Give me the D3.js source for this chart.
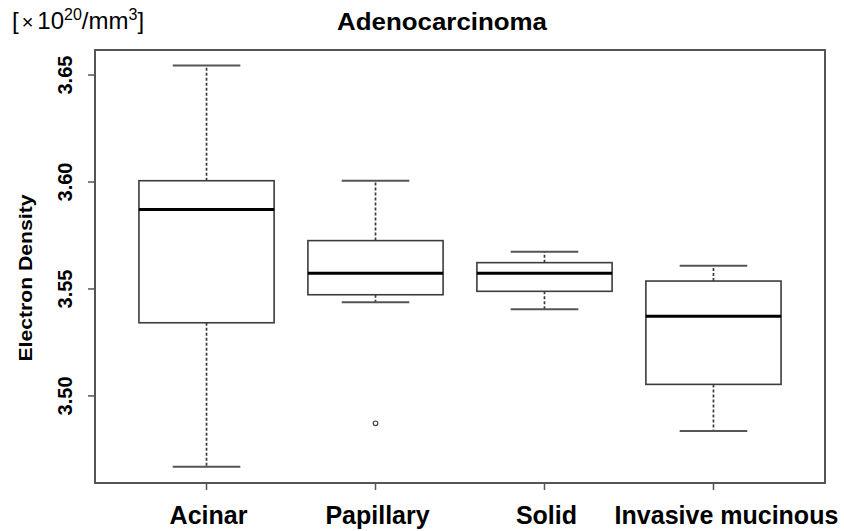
<!DOCTYPE html>
<html>
<head>
<meta charset="utf-8">
<script src="https://cdn.jsdelivr.net/npm/d3@7"></script>
<style>
  body { margin: 0; background: #fff; }
  text { font-family: "Liberation Sans", Arial, sans-serif; fill: #000; }
</style>
</head>
<body>
<svg id="chart"></svg>
<script>
// box plot values (electron density, x10^20/mm^3)
const categories = ["Acinar", "Papillary", "Solid", "Invasive mucinous"];
const whiskerLow = [3.4669, 3.5438, 3.5405, 3.4836];
const q1 = [3.5342, 3.5473, 3.5489, 3.5054];
const medians = [3.5872, 3.5573, 3.5573, 3.5372];
const q3 = [3.6006, 3.5726, 3.5623, 3.5537];
const whiskerHigh = [3.6544, 3.6006, 3.5674, 3.5609];
const outliers = [[], [3.4872], [], []];
const yTicks = [3.50, 3.55, 3.60, 3.65];

const width = 844, height = 531;
const plotLeft = 95, plotRight = 825, plotTop = 50, plotBottom = 483;

const svg = d3.select("#chart")
  .attr("width", width)
  .attr("height", height);

// R style limits: 0.5..n+0.5 padded by 4%
const x = d3.scaleLinear().domain([0.34, 4.66]).range([plotLeft, plotRight]);
const y = d3.scaleLinear().domain([3.4593, 3.6617]).range([plotBottom, plotTop]);

const lineCol = "#3c3c3c";
const boxW = 0.4;   // half width in x units
const capW = 0.2;

const rows = categories.map((c, i) => ({
  name: c, pos: i + 1,
  lo: whiskerLow[i], q1: q1[i], med: medians[i], q3: q3[i], hi: whiskerHigh[i],
  out: outliers[i]
}));

const g = svg.append("g");

// whiskers (dashed)
g.selectAll(".whisk-hi").data(rows).enter().append("line")
  .attr("x1", d => x(d.pos)).attr("x2", d => x(d.pos))
  .attr("y1", d => y(d.q3)).attr("y2", d => y(d.hi))
  .attr("stroke", lineCol).attr("stroke-width", 1.7)
  .attr("stroke-dasharray", "3,2");
g.selectAll(".whisk-lo").data(rows).enter().append("line")
  .attr("x1", d => x(d.pos)).attr("x2", d => x(d.pos))
  .attr("y1", d => y(d.q1)).attr("y2", d => y(d.lo))
  .attr("stroke", lineCol).attr("stroke-width", 1.7)
  .attr("stroke-dasharray", "3,2");

// caps
["hi", "lo"].forEach(k => {
  g.selectAll(".cap-" + k).data(rows).enter().append("line")
    .attr("x1", d => x(d.pos - capW)).attr("x2", d => x(d.pos + capW))
    .attr("y1", d => y(d[k])).attr("y2", d => y(d[k]))
    .attr("stroke", "#555").attr("stroke-width", 2);
});

// boxes
g.selectAll("rect.box").data(rows).enter().append("rect")
  .attr("class", "box")
  .attr("x", d => x(d.pos - boxW))
  .attr("width", d => x(d.pos + boxW) - x(d.pos - boxW))
  .attr("y", d => y(d.q3))
  .attr("height", d => y(d.q1) - y(d.q3))
  .attr("fill", "#fff")
  .attr("stroke", lineCol).attr("stroke-width", 1.6);

// medians
g.selectAll(".med").data(rows).enter().append("line")
  .attr("x1", d => x(d.pos - boxW)).attr("x2", d => x(d.pos + boxW))
  .attr("y1", d => y(d.med)).attr("y2", d => y(d.med))
  .attr("stroke", "#000").attr("stroke-width", 3);

// outliers
rows.forEach(d => {
  g.selectAll(null).data(d.out).enter().append("circle")
    .attr("cx", x(d.pos)).attr("cy", v => y(v))
    .attr("r", 2.3)
    .attr("fill", "none").attr("stroke", "#444").attr("stroke-width", 1.2);
});

// frame
svg.append("rect")
  .attr("x", plotLeft).attr("y", plotTop)
  .attr("width", plotRight - plotLeft).attr("height", plotBottom - plotTop)
  .attr("fill", "none").attr("stroke", "#555").attr("stroke-width", 2);

// y axis ticks + rotated labels
svg.selectAll(".ytick").data(yTicks).enter().append("line")
  .attr("x1", plotLeft - 7).attr("x2", plotLeft)
  .attr("y1", d => y(d)).attr("y2", d => y(d))
  .attr("stroke", "#555").attr("stroke-width", 1.5);
svg.selectAll(".ylab").data(yTicks).enter().append("text")
  .attr("transform", d => `translate(72,${y(d)}) rotate(-90)`)
  .attr("text-anchor", "middle")
  .style("font-size", "20px").style("font-weight", "bold")
  .text(d => d.toFixed(2));

// x axis ticks + labels
svg.selectAll(".xtick").data(rows).enter().append("line")
  .attr("x1", d => x(d.pos)).attr("x2", d => x(d.pos))
  .attr("y1", plotBottom).attr("y2", plotBottom + 7)
  .attr("stroke", "#555").attr("stroke-width", 1.5);
svg.selectAll(".xlab").data(rows).enter().append("text")
  .attr("x", d => x(d.pos) + (d.pos === 4 ? 13 : 2))
  .attr("y", 524)
  .attr("text-anchor", "middle")
  .style("font-size", "25px").style("font-weight", "bold")
  .text(d => d.name);

// title
svg.append("text")
  .attr("x", 442).attr("y", 30)
  .attr("text-anchor", "middle")
  .attr("textLength", 210).attr("lengthAdjust", "spacingAndGlyphs")
  .style("font-size", "24px").style("font-weight", "bold")
  .text("Adenocarcinoma");

// y axis title
svg.append("text")
  .attr("transform", "translate(32,278) rotate(-90)")
  .attr("text-anchor", "middle")
  .attr("textLength", 167).attr("lengthAdjust", "spacingAndGlyphs")
  .style("font-size", "18px").style("font-weight", "bold")
  .text("Electron Density");

// unit label
const unit = svg.append("text")
  .attr("x", 12).attr("y", 29)
  .style("font-size", "24px");
unit.append("tspan").text("[");
unit.append("tspan").style("font-size", "20px").attr("dx", 3).text("\u00d7");
unit.append("tspan").attr("dx", 4).text("10");
unit.append("tspan").attr("dy", -9).style("font-size", "16px").text("20");
unit.append("tspan").attr("dy", 9).text("/mm");
unit.append("tspan").attr("dy", -9).style("font-size", "16px").text("3");
unit.append("tspan").attr("dy", 9).text("]");
</script>
</body>
</html>
